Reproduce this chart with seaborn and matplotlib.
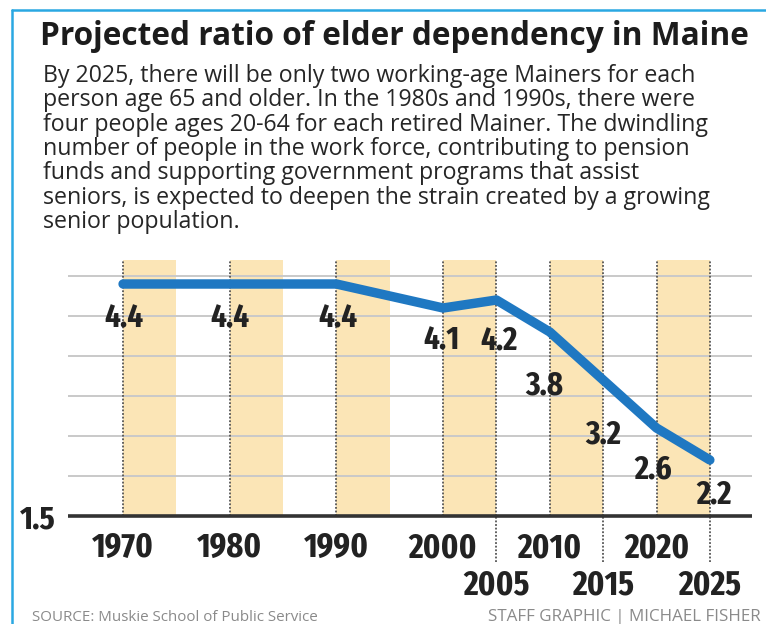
import matplotlib
matplotlib.use("Agg")
import matplotlib.pyplot as plt
import seaborn as sns
import pandas as pd
from matplotlib.lines import Line2D

# ---------------- data ----------------
years = [1970, 1980, 1990, 2000, 2005, 2010, 2015, 2020, 2025]
ratios = [4.4, 4.4, 4.4, 4.1, 4.2, 3.8, 3.2, 2.6, 2.2]
value_labels = ["4.4", "4.4", "4.4", "4.1", "4.2", "3.8", "3.2", "2.6", "2.2"]
upper_tick_years = [1970, 1980, 1990, 2000, 2010, 2020]
upper_tick_labels = ["1970", "1980", "1990", "2000", "2010", "2020"]
lower_tick_years = [2005, 2015, 2025]
lower_tick_labels = ["2005", "2015", "2025"]
band_starts = [1970, 1980, 1990, 2000, 2010, 2020]
band_span = 5
grid_values = [2.0, 2.5, 3.0, 3.5, 4.0, 4.5]
y_base = 1.5
y_base_label = "1.5"

title = "Projected ratio of elder dependency in Maine"
body_lines = [
    "By 2025, there will be only two working-age Mainers for each",
    "person age 65 and older. In the 1980s and 1990s, there were",
    "four people ages 20-64 for each retired Mainer. The dwindling",
    "number of people in the work force, contributing to pension",
    "funds and supporting government programs that assist",
    "seniors, is expected to deepen the strain created by a growing",
    "senior population.",
]
source_text = "SOURCE: Muskie School of Public Service"
credit_text = "STAFF GRAPHIC | MICHAEL FISHER"

# label offsets in pixels (dx right, dy down) -- styling only
label_offsets = [(1, 35), (0, 35), (2, 35), (-2, 33), (3, 41), (-6, 54), (0, 55), (-3, 42), (4, 35)]

# ---------------- style ----------------
W, H = 766, 624
LINE_BLUE = "#1f78c2"
BAND = "#fbe5b6"
GRID = "#c9c9c9"
DARK = "#222222"
BORDER = "#2aa8e2"
NARROW = ["Fira Sans Extra Condensed", "DejaVu Sans"]
BODYFONT = ["Open Sans", "DejaVu Sans"]

sns.set_theme(style="white")
plt.rcParams["font.family"] = NARROW

fig = plt.figure(figsize=(W / 100, H / 100), dpi=100)
fig.patch.set_facecolor("white")


def fx(x):
    return x / W


def fy(y):
    return 1 - y / H


ax = fig.add_axes([fx(68), fy(516), 684 / W, 256 / H])
ax.set_facecolor("white")
x0, x1 = 1964.84, 2028.95
ax.set_xlim(x0, x1)
ax.set_ylim(y_base, 4.7)

# bands
for s in band_starts:
    ax.axvspan(s, s + band_span, color=BAND, lw=0, zorder=0)

# horizontal grid
for v in grid_values:
    ax.axhline(v, color=GRID, lw=1.4, zorder=1)

# dotted verticals
ax.vlines(years, y_base, 4.7, colors="#555555", linestyles=(0, (1, 1)), lw=1.3, zorder=2)
ax.vlines(lower_tick_years, 0.93, y_base, colors="#555555", linestyles=(0, (1, 1)),
          lw=1.3, zorder=2, clip_on=False)

# baseline
ax.plot([x0, x1], [y_base, y_base], color="#333333", lw=2.6, zorder=4,
        clip_on=False, solid_capstyle="butt")

# data line
df = pd.DataFrame({"year": years, "ratio": ratios})
sns.lineplot(data=df, x="year", y="ratio", ax=ax, color=LINE_BLUE, lw=6.8, zorder=5,
             solid_capstyle="round", solid_joinstyle="round", legend=False)

# value labels
for yr, val, lbl, (dx, dy) in zip(years, ratios, value_labels, label_offsets):
    ax.annotate(lbl, (yr, val), xytext=(dx * 0.72, -dy * 0.72), textcoords="offset points",
                ha="center", va="center", fontsize=24, fontweight="bold", color=DARK,
                family=NARROW, zorder=6)

# ticks
for sp in ax.spines.values():
    sp.set_visible(False)
ax.set_xlabel("")
ax.set_ylabel("")
ax.set_xticks(upper_tick_years, upper_tick_labels)
ax.set_xticks(lower_tick_years, lower_tick_labels, minor=True)
ax.tick_params(axis="x", which="major", length=0, pad=11, labelsize=25, labelcolor=DARK)
ax.tick_params(axis="x", which="minor", length=0, pad=38, labelsize=25, labelcolor=DARK)
for t in ax.get_xticklabels(which="both"):
    t.set_fontweight("bold")
    t.set_family(NARROW)
ax.set_yticks([y_base], [y_base_label])
ax.tick_params(axis="y", length=0, pad=9, labelsize=24, labelcolor=DARK)
for t in ax.get_yticklabels():
    t.set_fontweight("bold")
    t.set_family(NARROW)

# ---------------- texts ----------------
fig.canvas.draw()
renderer = fig.canvas.get_renderer()


def fit_width(t, target):
    w = t.get_window_extent(renderer).width
    t.set_fontsize(t.get_fontsize() * target / w)


tt = fig.text(fx(40), fy(45), title, fontsize=22, fontweight="bold", color="#1c1c1c",
              family=BODYFONT, va="baseline", ha="left")
fit_width(tt, 708)

body = []
for i, line in enumerate(body_lines):
    body.append(fig.text(fx(43), fy(82 + 24.3 * i), line, fontsize=14, color="#262626",
                         family=BODYFONT, va="baseline", ha="left"))
w0 = body[0].get_window_extent(renderer).width
size = 14 * 657 / w0
for b in body:
    b.set_fontsize(size)

st = fig.text(fx(32), fy(621), source_text, fontsize=8, color="#8a8a8a",
              family=BODYFONT, va="baseline", ha="left")
fit_width(st, 288)
ct = fig.text(fx(761), fy(621), credit_text, fontsize=8, color="#8a8a8a",
              family=BODYFONT, va="baseline", ha="right")
fit_width(ct, 273)

# blue frame
fig.add_artist(Line2D([fx(12), fx(12)], [0, fy(9.5)], transform=fig.transFigure,
                      color=BORDER, lw=1.8))
fig.add_artist(Line2D([fx(12), 1], [fy(9.5), fy(9.5)], transform=fig.transFigure,
                      color=BORDER, lw=1.8))

fig.savefig("out.png", dpi=100, facecolor="white")
